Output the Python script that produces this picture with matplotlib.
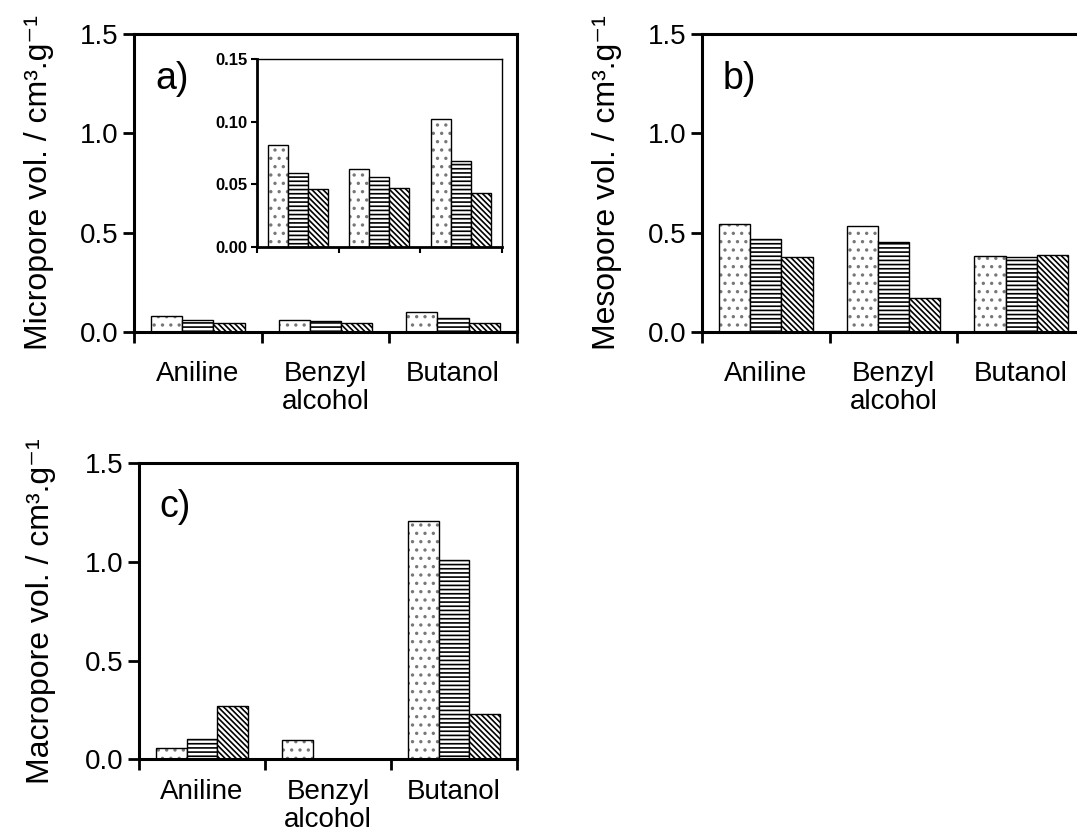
import numpy as np
import matplotlib.pyplot as plt

plt.rcParams['font.family'] = ['Liberation Sans', 'DejaVu Sans']
plt.rcParams['hatch.linewidth'] = 1.2

solvents = ["Aniline", "Benzyl\nalcohol", "Butanol"]
hatches = ['..', '----', '\\\\\\\\\\\\']
hatch_colors = ['#777777', 'black', 'black']

# three samples per solvent (dotted, striped, hatched bars)
micro_1 = [0.081, 0.062, 0.102]
micro_2 = [0.059, 0.0556, 0.0686]
micro_3 = [0.046, 0.047, 0.043]

meso_1 = [0.543, 0.531, 0.381]
meso_2 = [0.470, 0.454, 0.376]
meso_3 = [0.378, 0.173, 0.388]

macro_1 = [0.056, 0.098, 1.208]
macro_2 = [0.104, 0.0, 1.011]
macro_3 = [0.271, 0.0, 0.230]

x = np.arange(len(solvents)) + 0.5
width = 0.245


def draw_bars(ax, series):
    for j, vals in enumerate(series):
        pos = x + (j - 1) * width
        # hatch drawn first, then a plain black outline on top
        ax.bar(pos, vals, width, facecolor='white', edgecolor=hatch_colors[j],
               hatch=hatches[j], linewidth=0)
        ax.bar(pos, vals, width, fill=False, edgecolor='black', linewidth=1)


def style_axis(ax, ylabel, letter, labelx, pad=21):
    ax.set_xlim(0, 3)
    ax.set_ylim(0, 1.5)
    ax.set_xticks([0, 1, 2, 3])
    ax.set_xticklabels([])
    ax.set_xticks(x, solvents, minor=True)
    for t in ax.get_xticklabels(minor=True):
        t.set_linespacing(1.1)
    ax.tick_params(axis='x', which='major', direction='out', length=8, width=2)
    ax.tick_params(axis='x', which='minor', length=0, pad=pad, labelsize=20)
    ax.set_yticks([0, 0.5, 1.0, 1.5])
    ax.set_yticklabels(['0.0', '0.5', '1.0', '1.5'])
    ax.tick_params(axis='y', direction='out', length=8, width=2, labelsize=20, pad=3)
    for s in ax.spines.values():
        s.set_linewidth(2.2)
    ax.set_ylabel(ylabel, fontsize=23)
    ax.yaxis.set_label_coords(labelx, 0.5)
    ax.text(0.055, 0.85, letter, transform=ax.transAxes, fontsize=27, va='center')


fig = plt.figure(figsize=(10.77, 8.4), dpi=100)

ax_a = fig.add_axes([0.1244, 0.6048, 0.3556, 0.3548])
ax_b = fig.add_axes([0.6518, 0.6048, 0.3556, 0.3548])
ax_c = fig.add_axes([0.1290, 0.0960, 0.3510, 0.3530])

draw_bars(ax_a, [micro_1, micro_2, micro_3])
draw_bars(ax_b, [meso_1, meso_2, meso_3])
draw_bars(ax_c, [macro_1, macro_2, macro_3])

style_axis(ax_a, "Micropore vol. / cm³.g⁻¹", "a)", -0.21)
style_axis(ax_b, "Mesopore vol. / cm³.g⁻¹", "b)", -0.21)
style_axis(ax_c, "Macropore vol. / cm³.g⁻¹", "c)", -0.22, pad=14)

# inset with the micropore data on a finer scale
axin = fig.add_axes([0.2386, 0.7060, 0.2275, 0.2238])
draw_bars(axin, [micro_1, micro_2, micro_3])
axin.set_xlim(0, 3)
axin.set_ylim(0, 0.15)
axin.set_xticks([0, 1, 2, 3])
axin.set_xticklabels([])
axin.set_yticks([0, 0.05, 0.10, 0.15])
axin.set_yticklabels(['0.00', '0.05', '0.10', '0.15'], fontweight='bold')
axin.tick_params(direction='out', length=4, width=1.5, labelsize=12, pad=3)
axin.spines['left'].set_linewidth(2)
axin.spines['bottom'].set_linewidth(2)
axin.spines['top'].set_linewidth(1)
axin.spines['right'].set_linewidth(1)

fig.savefig("out.png", dpi=100)
